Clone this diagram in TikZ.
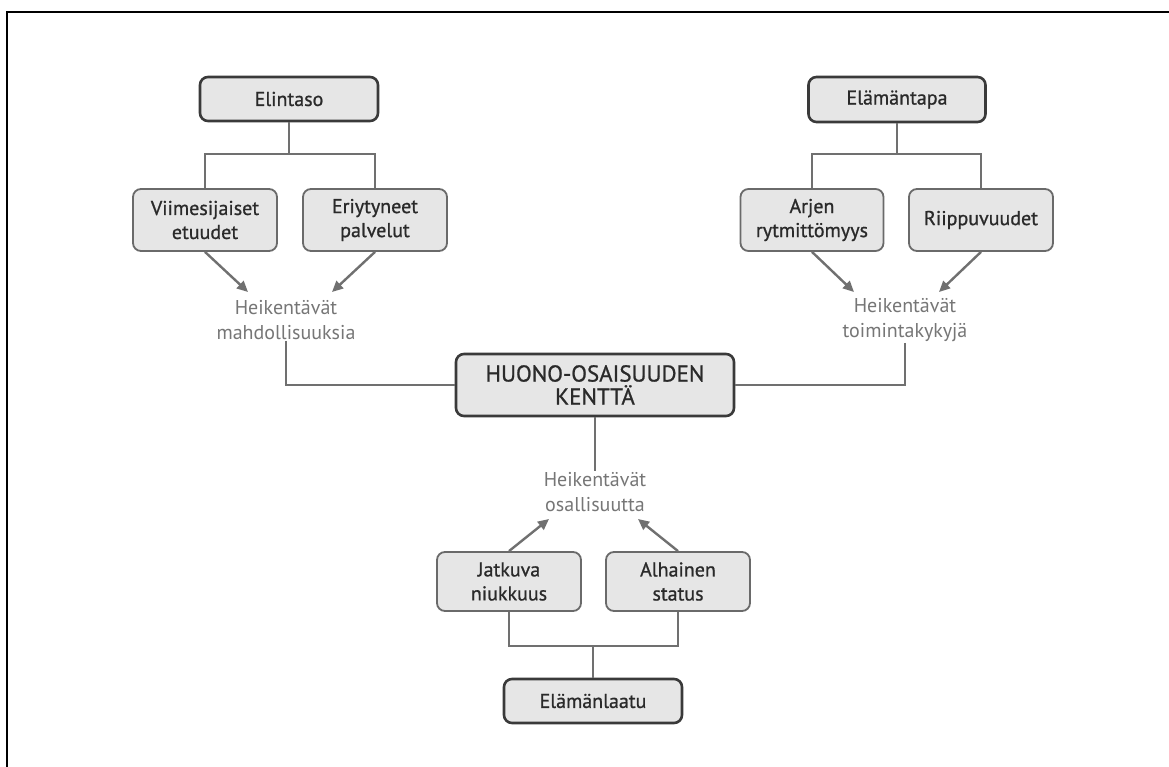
\documentclass[tikz,border=0pt]{standalone}
\usepackage{fontspec}
\setmainfont{PT Sans}
\newfontfamily\boxfont[FakeBold=0.9]{PT Sans}
\usetikzlibrary{arrows.meta}
\definecolor{linegray}{HTML}{707070}
\definecolor{boxfill}{HTML}{E6E6E6}
\definecolor{mainborder}{HTML}{3A3A3A}
\definecolor{subborder}{HTML}{6A6A6A}
\definecolor{txtdark}{HTML}{2A2A2A}
\definecolor{txtgray}{HTML}{767676}
\tikzset{
  mainbox/.style={draw=mainborder, line width=2.6pt, fill=boxfill, rounded corners=8pt,
    align=center, inner sep=0pt, text=txtdark, font=\boxfont\fontsize{20}{24}\selectfont},
  subbox/.style={draw=subborder, line width=1.8pt, fill=boxfill, rounded corners=8pt,
    align=center, inner sep=0pt, text=txtdark, minimum width=144pt, minimum height=62pt,
    font=\boxfont\fontsize{20}{24}\selectfont},
  lbl/.style={align=center, inner sep=1pt, text=txtgray, font=\fontsize{20}{25}\selectfont},
  conn/.style={draw=linegray, line width=2.4pt},
  arr/.style={conn, -{Triangle[length=11pt,width=10pt]}, shorten >=0pt},
}
\begin{document}
\begin{tikzpicture}[x=1pt,y=-1pt]
\useasboundingbox (0,0) rectangle (1169,767);
\fill[white] (0,0) rectangle (1169,767);
\draw[black, line width=2.6pt] (1169,12) -- (7,12) -- (7,767);

% top-left group
\node[mainbox, minimum width=178pt, minimum height=44pt] (elintaso) at (289,99) {Elintaso};
\node[subbox] (viim) at (205,220) {Viimesijaiset\\etuudet};
\node[subbox] (eriy) at (375,220) {Eriytyneet\\palvelut};
\node[lbl] (hm) at (286,320) {Heikentävät\\mahdollisuuksia};

% top-right group
\node[mainbox, minimum width=177pt, minimum height=45pt] (elamt) at (897,99.5) {Elämäntapa};
\node[subbox, minimum width=143pt] (arjen) at (812,220) {Arjen\\rytmittömyys};
\node[subbox] (riip) at (981,220) {Riippuvuudet};
\node[lbl] (ht) at (905,320) {Heikentävät\\toimintakykyjä};

% centre
\node[mainbox, minimum width=278pt, minimum height=62pt, font=\boxfont\fontsize{23}{23}\selectfont] (huono) at (595,385) {HUONO-OSAISUUDEN\\KENTTÄ};
\node[lbl] (ho) at (595,492) {Heikentävät\\osallisuutta};

% bottom group
\node[subbox, minimum height=59pt] (jatk) at (509,581.5) {Jatkuva\\niukkuus};
\node[subbox, minimum height=59pt] (alh) at (678,581.5) {Alhainen\\status};
\node[mainbox, minimum width=178pt, minimum height=44pt] (elaat) at (593,701) {Elämänlaatu};

% junctions and arrow ends
\coordinate (j1) at (289,154);
\coordinate (j2) at (897,154);
\coordinate (j3) at (593,646);
\coordinate (a1) at (248,292);
\coordinate (a2) at (332,292);
\coordinate (a3) at (854,292);
\coordinate (a4) at (939,292);
\coordinate (a5) at (549,519);
\coordinate (a6) at (638,519);

% connectors
\draw[conn] (elintaso.south) -- (j1);
\draw[conn] (viim.north) |- (j1) -| (eriy.north);
\draw[arr] (viim.south) -- (a1);
\draw[arr] (eriy.south) -- (a2);
\draw[conn] (hm.south) |- (huono.west);

\draw[conn] (elamt.south) -- (j2);
\draw[conn] (arjen.north) |- (j2) -| (riip.north);
\draw[arr] (arjen.south) -- (a3);
\draw[arr] (riip.south) -- (a4);
\draw[conn] (ht.south) |- (huono.east);

\draw[conn] (huono.south) -- (ho.north);
\draw[arr] (jatk.north) -- (a5);
\draw[arr] (alh.north) -- (a6);
\draw[conn] (jatk.south) |- (j3) -| (alh.south);
\draw[conn] (j3) -- (elaat.north);
\end{tikzpicture}
\end{document}
